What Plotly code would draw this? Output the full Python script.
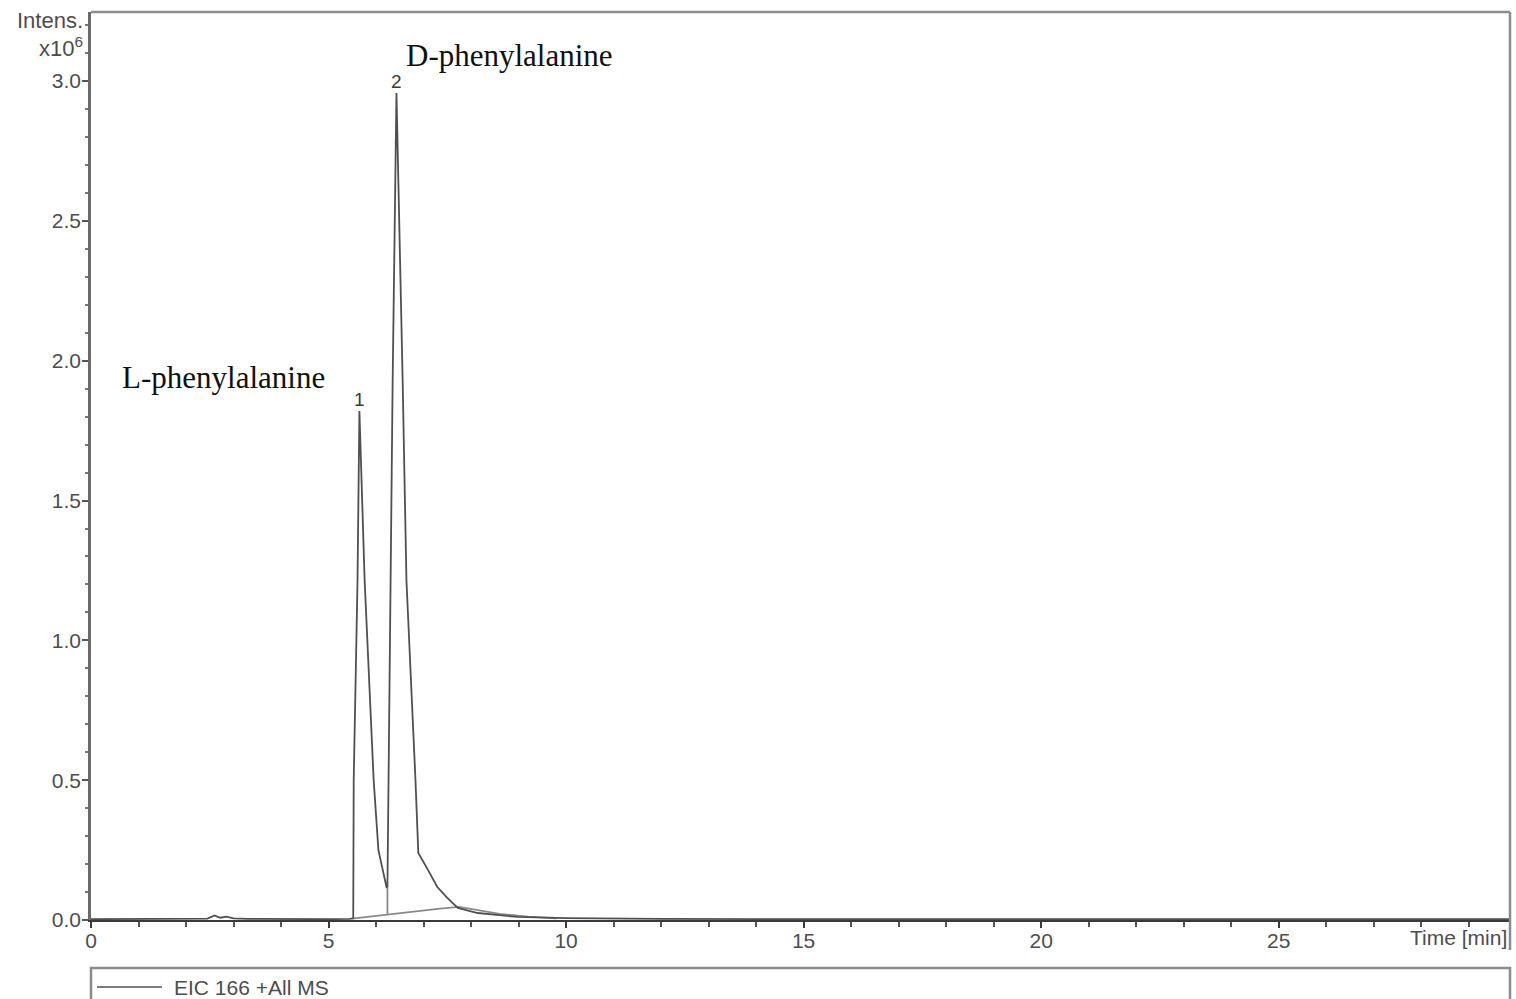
import plotly.graph_objects as go

# EIC 166 chromatogram (time in min, intensity in units of 10^6 counts)
trace_name = "EIC 166 +All MS"
time_min = [0.0, 1.0, 2.0, 2.45, 2.6, 2.72, 2.85, 3.0, 3.3, 4.0, 5.0, 5.45, 5.52,
            5.53, 5.61, 5.65, 5.76, 5.95, 6.05, 6.22, 6.24, 6.35, 6.43, 6.56, 6.64,
            6.83, 6.89, 7.09, 7.29, 7.50, 7.72, 8.14, 8.62, 8.98, 10.0, 11.0, 12.0,
            15.0, 20.0, 25.0, 29.9]
intensity = [0.003, 0.003, 0.004, 0.005, 0.016, 0.008, 0.012, 0.006, 0.004, 0.003,
             0.003, 0.004, 0.006, 0.50, 1.21, 1.82, 1.215, 0.50, 0.25, 0.118, 0.12,
             1.93, 2.957, 1.93, 1.215, 0.50, 0.24, 0.18, 0.118, 0.079, 0.043, 0.025,
             0.018, 0.011, 0.007, 0.005, 0.004, 0.003, 0.003, 0.003, 0.003]

# Integration baseline under the two peaks and the drop line between them
base_time = [5.50, 6.24, 6.8, 7.3, 7.75, 8.1, 8.6, 9.2, 9.8]
base_intensity = [0.005, 0.02, 0.03, 0.04, 0.047, 0.036, 0.022, 0.012, 0.006]
drop_time = [6.24, 6.24]
drop_intensity = [0.02, 0.118]

# Peak numbers and compound names
peak_numbers = ["1", "2"]
peak_time = [5.65, 6.43]
peak_height = [1.82, 2.957]
compounds = ["L-phenylalanine", "D-phenylalanine"]
compound_time = [0.62, 6.58]
compound_level = [1.94, 3.093]

x_range = [0, 29.87]
y_range = [0, 3.247]
y_ticks = [0.0, 0.5, 1.0, 1.5, 2.0, 2.5, 3.0]
y_ticktext = ["0.0", "0.5", "1.0", "1.5", "2.0", "2.5", "3.0"]
x_ticks = [0, 5, 10, 15, 20, 25]

sans = "Liberation Sans, Arial, sans-serif"
serif = "Liberation Serif, Times New Roman, serif"
label_gray = "#4d4d4d"

fig = go.Figure()
fig.add_trace(go.Scatter(x=base_time, y=base_intensity, mode="lines",
                         line=dict(color="#8a8a8a", width=1.8), showlegend=False,
                         hoverinfo="skip"))
fig.add_trace(go.Scatter(x=drop_time, y=drop_intensity, mode="lines",
                         line=dict(color="#8a8a8a", width=1.8), showlegend=False,
                         hoverinfo="skip"))
fig.add_trace(go.Scatter(x=time_min, y=intensity, mode="lines", name=trace_name,
                         line=dict(color="#505050", width=1.8), showlegend=False))

for lab, t, h in zip(peak_numbers, peak_time, peak_height):
    fig.add_annotation(x=t, y=h, text=lab, showarrow=False, yanchor="bottom",
                       yshift=-1, font=dict(family=sans, size=19, color="#3a3a3a"))

for name, t, lvl in zip(compounds, compound_time, compound_level):
    fig.add_annotation(x=t, y=lvl, text=name, showarrow=False, xanchor="left",
                       yanchor="middle", font=dict(family=serif, size=31, color="#111"))

# Axis captions
fig.add_annotation(xref="paper", yref="paper", x=-0.004, y=0.991, text="Intens.",
                   showarrow=False, xanchor="right", yanchor="middle",
                   font=dict(family=sans, size=22, color=label_gray))
fig.add_annotation(xref="paper", yref="paper", x=-0.004, y=0.962,
                   text="x10<sup>6</sup>", showarrow=False, xanchor="right",
                   yanchor="middle", font=dict(family=sans, size=22, color=label_gray))
fig.add_annotation(xref="paper", yref="paper", x=0.9995, y=-0.0198, text="Time [min]",
                   showarrow=False, xanchor="right", yanchor="middle",
                   font=dict(family=sans, size=21, color=label_gray))

# Frame: top and right border of the plot box
fig.add_shape(type="line", xref="paper", yref="paper", x0=0, x1=1, y0=1, y1=1,
              line=dict(color="#8c8c8c", width=2.5))
fig.add_shape(type="line", xref="paper", yref="paper", x0=1, x1=1, y0=1, y1=-0.033,
              line=dict(color="#8c8c8c", width=2.5))

# Legend box below the plot
fig.add_shape(type="rect", xref="paper", yref="paper", x0=0, x1=1, y0=-0.0529,
              y1=-0.12, line=dict(color="#8c8c8c", width=2.5))
fig.add_shape(type="line", xref="paper", yref="paper", x0=0.0042, x1=0.05,
              y0=-0.0738, y1=-0.0738, line=dict(color="#505050", width=1.5))
fig.add_annotation(xref="paper", yref="paper", x=0.057, y=-0.0738, text=trace_name,
                   showarrow=False, xanchor="left", yanchor="middle",
                   font=dict(family=sans, size=21, color=label_gray))

fig.update_xaxes(range=x_range, tickvals=x_ticks, showgrid=False, zeroline=False,
                 showline=True, linecolor="#3a3a3a", linewidth=2,
                 ticks="outside", ticklen=6, tickwidth=1.5, tickcolor="#3a3a3a",
                 ticklabelstandoff=-5,
                 minor=dict(dtick=1, ticks="outside", ticklen=5, tickwidth=1.5,
                            tickcolor="#555", showgrid=False),
                 tickfont=dict(family=sans, size=21, color=label_gray))
fig.update_yaxes(range=y_range, tickvals=y_ticks, ticktext=y_ticktext, showgrid=False,
                 zeroline=False, showline=True, linecolor="#6a6a6a", linewidth=2.5,
                 ticks="outside", ticklen=6, tickwidth=1.5, tickcolor="#555",
                 ticklabelstandoff=-3,
                 minor=dict(dtick=0.1, ticks="outside", ticklen=3, tickwidth=1.5,
                            tickcolor="#777", showgrid=False),
                 tickfont=dict(family=sans, size=21, color=label_gray))

fig.update_layout(width=1516, height=999, autosize=False,
                  margin=dict(l=91, r=6, t=12, b=79),
                  plot_bgcolor="white", paper_bgcolor="white", showlegend=False)

fig.write_html("out.html")
